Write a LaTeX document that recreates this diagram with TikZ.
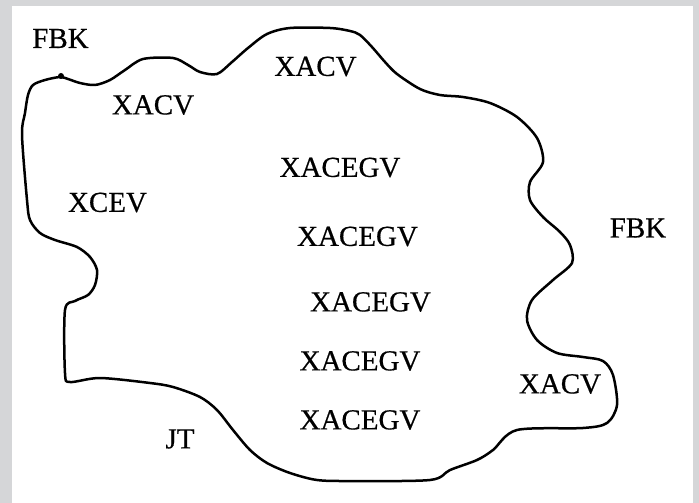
\documentclass[tikz,border=0pt]{standalone}
\usepackage{fontspec}
\newfontfamily\lblfont{Liberation Serif}[FakeBold=0.5]
\definecolor{framegray}{HTML}{D5D6D8}
\begin{document}
\begin{tikzpicture}[x=1bp,y=-1bp,
  lbl/.style={inner sep=0pt,font=\lblfont\fontsize{29bp}{34bp}\selectfont},
  outline/.style={draw=black,line width=2.5bp,line join=round}]
\useasboundingbox (0,0) rectangle (699,503);
\fill[framegray] (0,0) rectangle (699,503);
\fill[white] (12,6) rectangle (693,503);
\draw[outline] plot[smooth cycle,tension=0.5] coordinates {
(60,77) (68,79) (80,83) (95,85) (110,80) (125,70) (143,59) (173,58) (188,65) (200,72) (217,74)
(232,62) (248,48) (267,34) (290,28) (330,28) (350,31) (360,35) (372,47) (385,62) (397,74)
(420,89) (440,95) (463,97) (490,103) (517,117) (537,138) (543,162) (530,182) (530,200)
(543,217) (560,232) (570,245) (572,263) (553,280) (532,300) (527,320) (537,340) (557,353)
(583,357) (603,361) (613,375) (617,405) (607,423) (583,428) (517,430) (493,450) (477,460)
(450,470) (430,480) (350,481) (317,480) (290,473) (267,463) (250,450) (233,430) (217,410)
(200,397) (173,387) (150,383) (100,378) (70,382) (65,373) (65,310) (75,301) (88,295)
(95,285) (97,270) (90,257) (77,247) (55,240) (40,233) (30,220) (27,200) (22,135) (25,113)
(28,95) (33,85) (45,80)};
\fill (61,76) circle (3bp);
\node[lbl] (fbk1) at (60.5,38.5) {FBK};
\node[lbl] (xacv1) at (153,105) {XACV};
\node[lbl] (xacv2) at (315.5,66.5) {XACV};
\node[lbl] (xcev) at (107.5,202.5) {XCEV};
\node[lbl] (g1) at (340,167.5) {XACEGV};
\node[lbl] (g2) at (357.5,236.5) {XACEGV};
\node[lbl] (g3) at (370.5,302) {XACEGV};
\node[lbl] (g4) at (360,361) {XACEGV};
\node[lbl] (g5) at (360,420) {XACEGV};
\node[lbl] (fbk2) at (638,228) {FBK};
\node[lbl] (xacv3) at (560,384) {XACV};
\node[lbl] (jt) at (180,439) {JT};
\end{tikzpicture}
\end{document}
